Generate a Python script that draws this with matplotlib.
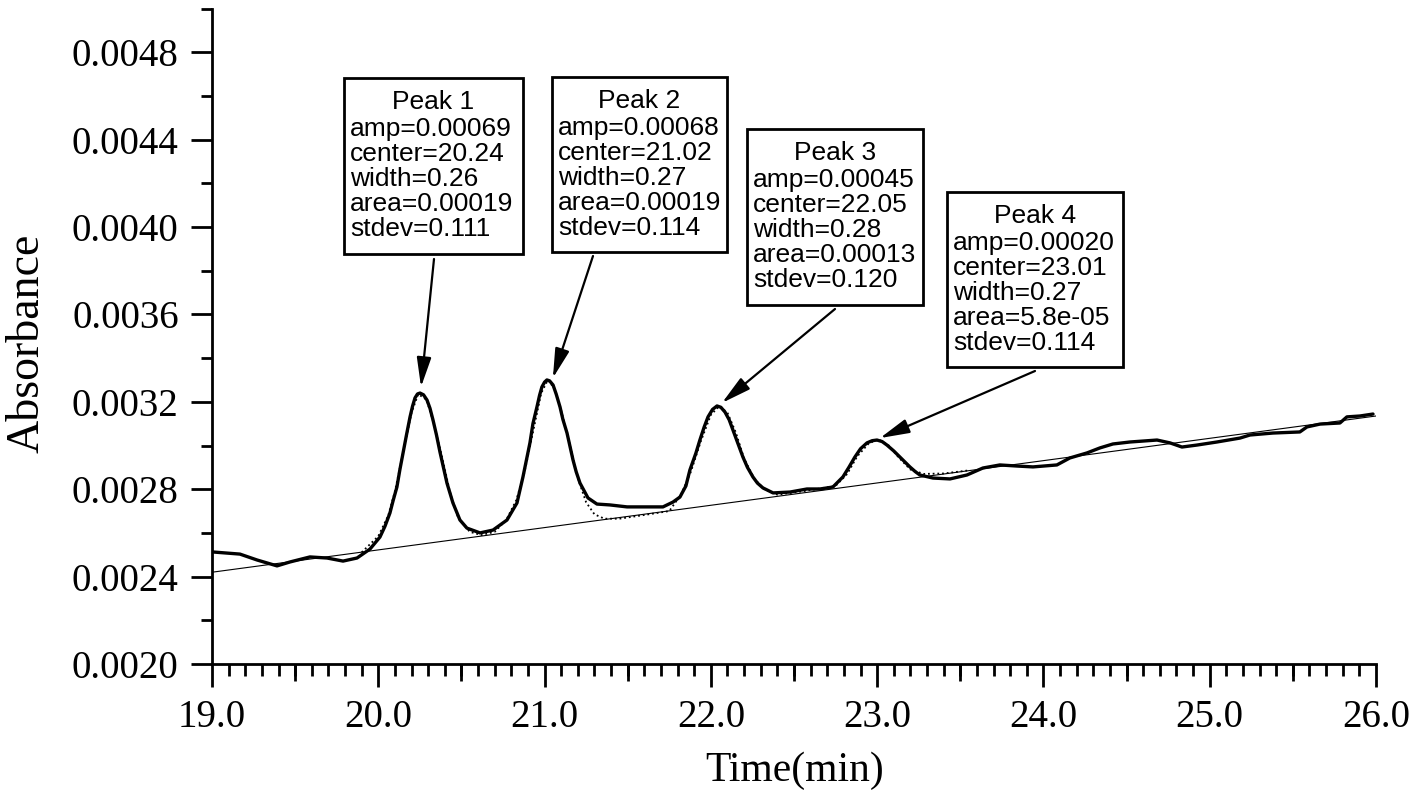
import matplotlib
matplotlib.use('Agg')
import matplotlib.pyplot as plt
from matplotlib.patches import Rectangle
from matplotlib.ticker import MultipleLocator, FormatStrFormatter

# ---------------- data ----------------
time_min = [19.000, 19.168, 19.271, 19.391, 19.469, 19.589, 19.692, 19.788, 19.872, 19.950,
            20.010, 20.040, 20.070, 20.090, 20.112, 20.130, 20.149, 20.170, 20.191, 20.206,
            20.221, 20.236, 20.251, 20.272, 20.293, 20.311, 20.329, 20.350, 20.371, 20.413,
            20.449, 20.491, 20.533, 20.612, 20.690, 20.774, 20.834, 20.870, 20.890, 20.912,
            20.930, 20.954, 20.970, 20.984, 21.000, 21.014, 21.030, 21.051, 21.070, 21.093,
            21.110, 21.135, 21.153, 21.171, 21.190, 21.213, 21.240, 21.261, 21.315, 21.393,
            21.496, 21.616, 21.712, 21.772, 21.814, 21.850, 21.874, 21.910, 21.934, 21.960,
            21.983, 22.010, 22.037, 22.060, 22.085, 22.110, 22.133, 22.160, 22.193, 22.220,
            22.253, 22.280, 22.313, 22.374, 22.476, 22.578, 22.656, 22.734, 22.794, 22.830,
            22.866, 22.900, 22.939, 22.970, 22.999, 23.030, 23.059, 23.100, 23.137, 23.170,
            23.197, 23.230, 23.257, 23.336, 23.438, 23.540, 23.636, 23.738, 23.841, 23.937,
            24.081, 24.159, 24.262, 24.340, 24.418, 24.520, 24.683, 24.761, 24.833, 24.923,
            25.043, 25.182, 25.242, 25.380, 25.542, 25.585, 25.663, 25.783, 25.825, 25.903,
            25.982]
absorbance = [0.002513, 0.002503, 0.002476, 0.002449, 0.002467, 0.002490, 0.002485, 0.002471, 0.002485, 0.002526,
              0.002581, 0.002630, 0.002691, 0.002750, 0.002810, 0.002890, 0.002966, 0.003050, 0.003131, 0.003180,
              0.003218, 0.003236, 0.003240, 0.003232, 0.003208, 0.003170, 0.003117, 0.003048, 0.002970, 0.002828,
              0.002737, 0.002659, 0.002622, 0.002600, 0.002613, 0.002659, 0.002737, 0.002856, 0.002930, 0.003012,
              0.003100, 0.003176, 0.003230, 0.003268, 0.003290, 0.003300, 0.003296, 0.003277, 0.003235, 0.003176,
              0.003120, 0.003057, 0.002995, 0.002934, 0.002880, 0.002828, 0.002790, 0.002760, 0.002732, 0.002728,
              0.002719, 0.002719, 0.002719, 0.002741, 0.002764, 0.002815, 0.002888, 0.002965, 0.003025, 0.003085,
              0.003131, 0.003165, 0.003181, 0.003175, 0.003153, 0.003118, 0.003071, 0.003015, 0.002947, 0.002900,
              0.002856, 0.002828, 0.002806, 0.002783, 0.002787, 0.002801, 0.002801, 0.002810, 0.002856, 0.002900,
              0.002947, 0.002985, 0.003012, 0.003022, 0.003025, 0.003018, 0.003002, 0.002975, 0.002947, 0.002922,
              0.002902, 0.002880, 0.002865, 0.002851, 0.002847, 0.002865, 0.002897, 0.002911, 0.002906, 0.002902,
              0.002911, 0.002943, 0.002966, 0.002989, 0.003007, 0.003016, 0.003025, 0.003012, 0.002993, 0.003002,
              0.003016, 0.003034, 0.003048, 0.003057, 0.003062, 0.003085, 0.003098, 0.003103, 0.003131, 0.003135,
              0.003144]

fit_time = [19.90, 20.00, 20.06, 20.10, 20.15, 20.20, 20.24, 20.29, 20.33, 20.38,
            20.43, 20.48, 20.55, 20.62, 20.70, 20.77, 20.83, 20.88, 20.93, 20.98,
            21.02, 21.06, 21.10, 21.15, 21.20, 21.25, 21.30, 21.36, 21.45, 21.60,
            21.75, 21.82, 21.88, 21.94, 22.00, 22.05, 22.10, 22.15, 22.20, 22.26,
            22.32, 22.40, 22.55, 22.75, 22.82, 22.88, 22.95, 23.01, 23.07, 23.13,
            23.20, 23.28, 23.40, 23.55]
fit_abs = [0.002511, 0.002585, 0.002680, 0.002790, 0.002970, 0.003150, 0.003235, 0.003210, 0.003110, 0.002960,
           0.002790, 0.002670, 0.002605, 0.002590, 0.002605, 0.002660, 0.002750, 0.002880, 0.003060, 0.003240,
           0.003300, 0.003260, 0.003160, 0.003010, 0.002850, 0.002740, 0.002685, 0.002665, 0.002665, 0.002682,
           0.002700, 0.002775, 0.002880, 0.003020, 0.003140, 0.003180, 0.003150, 0.003060, 0.002940, 0.002850,
           0.002800, 0.002775, 0.002790, 0.002815, 0.002870, 0.002950, 0.003010, 0.003028, 0.003000, 0.002945,
           0.002890, 0.002870, 0.002872, 0.002886]

baseline_time = [19.0, 26.0]
baseline_abs = [0.002420, 0.003135]

peak_names = ['Peak 1', 'Peak 2', 'Peak 3', 'Peak 4']
peak_amp = ['0.00069', '0.00068', '0.00045', '0.00020']
peak_center = ['20.24', '21.02', '22.05', '23.01']
peak_width = ['0.26', '0.27', '0.28', '0.27']
peak_area = ['0.00019', '0.00019', '0.00013', '5.8e-05']
peak_stdev = ['0.111', '0.114', '0.120', '0.114']
arrow_tip_time = [20.257, 21.050, 22.067, 23.017]
arrow_tip_abs = [0.003268, 0.003309, 0.003195, 0.003034]

x_ticks = [19.0, 20.0, 21.0, 22.0, 23.0, 24.0, 25.0, 26.0]
x_mid_ticks = [19.5, 20.5, 21.5, 22.5, 23.5, 24.5, 25.5]
y_ticks = [0.0020, 0.0024, 0.0028, 0.0032, 0.0036, 0.0040, 0.0044, 0.0048]

# ---------------- layout ----------------
W, H = 1423, 797
fig = plt.figure(figsize=(W / 100, H / 100), dpi=100)
ax = fig.add_axes([212 / W, 1 - 664 / H, (1376 - 212) / W, (664 - 8.5) / H])

serif = ['Liberation Serif', 'DejaVu Serif']
sans = ['Liberation Sans', 'DejaVu Sans']

ax.plot(baseline_time, baseline_abs, color='black', lw=0.8)
ax.plot(fit_time, fit_abs, color='black', lw=1.3, linestyle=(0, (1, 1.6)))
ax.plot(time_min, absorbance, color='black', lw=2.4, solid_joinstyle='round', solid_capstyle='round')

ax.set_xlim(19.0, 26.0)
ax.set_ylim(0.0020, 0.0050)

for s in ['top', 'right']:
    ax.spines[s].set_visible(False)
for s in ['left', 'bottom']:
    ax.spines[s].set_linewidth(2.0)

ax.set_xticks(x_ticks)
ax.set_xticklabels([f'{v:.1f}' for v in x_ticks])
ax.xaxis.set_minor_locator(MultipleLocator(0.1))
ax.set_yticks(y_ticks)
ax.yaxis.set_major_formatter(FormatStrFormatter('%.4f'))
ax.yaxis.set_minor_locator(MultipleLocator(0.0002))

ax.tick_params(axis='x', which='major', direction='out', length=16.5, width=2.0, pad=9, labelsize=28)
ax.tick_params(axis='x', which='minor', direction='out', length=8.5, width=2.0)
ax.tick_params(axis='y', which='major', direction='out', length=15, width=2.0, pad=9, labelsize=28)
ax.tick_params(axis='y', which='minor', direction='out', length=8, width=2.0)
for lab in ax.get_xticklabels() + ax.get_yticklabels():
    lab.set_family(serif)

sec = ax.secondary_xaxis('bottom')
sec.set_xticks(x_mid_ticks)
sec.tick_params(axis='x', which='major', direction='out', length=12.5, width=2.0, labelbottom=False)
sec.tick_params(axis='x', which='minor', length=0)
sec.spines['bottom'].set_visible(False)

fig.text(27 / W, 1 - 343 / H, 'Absorbance', rotation=90, ha='center', va='center',
         fontsize=33, family=serif)
fig.text(795 / W, 1 - 771 / H, 'Time(min)', ha='center', va='center',
         fontsize=30, family=serif)

# annotation boxes (pixel layout)
box_px = [(344, 78, 523, 254), (552, 77, 727, 252), (747, 129, 923, 305), (947, 192, 1123, 367)]
arrow_tail_px = [(434, 259), (593, 256), (835, 309), (1035, 371)]
line_offsets = [58, 83, 108, 133, 158]

for i in range(4):
    x0, y0, x1, y1 = box_px[i]
    fig.patches.append(Rectangle((x0 / W, 1 - y1 / H), (x1 - x0) / W, (y1 - y0) / H,
                                 transform=fig.transFigure, fill=True, facecolor='white',
                                 edgecolor='black', lw=2.0, zorder=5))
    fig.text((x0 + x1) / 2 / W, 1 - (y0 + 31) / H, peak_names[i], ha='center', va='baseline',
             fontsize=19, family=sans, zorder=6)
    lines = ['amp=' + peak_amp[i], 'center=' + peak_center[i], 'width=' + peak_width[i],
             'area=' + peak_area[i], 'stdev=' + peak_stdev[i]]
    for off, s in zip(line_offsets, lines):
        fig.text((x0 + 6) / W, 1 - (y0 + off) / H, s, ha='left', va='baseline',
                 fontsize=19, family=sans, zorder=6)
    tx, ty = arrow_tail_px[i]
    ax.annotate('', xy=(arrow_tip_time[i], arrow_tip_abs[i]), xycoords='data',
                xytext=(tx / W, 1 - ty / H), textcoords='figure fraction',
                arrowprops=dict(arrowstyle='-|>,head_length=0.9,head_width=0.22',
                                mutation_scale=20, lw=1.6, color='black',
                                shrinkA=0, shrinkB=0), annotation_clip=False)

fig.savefig('out.png', dpi=100, facecolor='white')
